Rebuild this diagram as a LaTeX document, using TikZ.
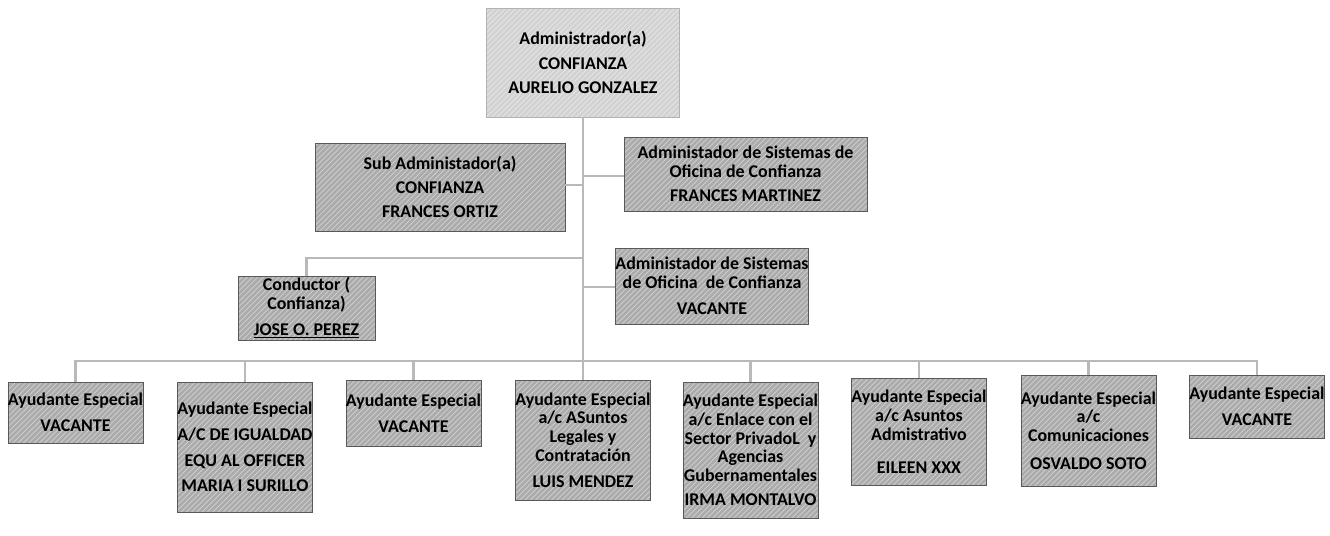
\documentclass[tikz,border=0pt]{standalone}
\usepackage{fontspec}
\setmainfont{Carlito}
\usetikzlibrary{patterns}
\begin{document}
\begin{tikzpicture}[x=0.02cm,y=-0.02cm,
  boxbase/.style 2 args={minimum width=#1*0.02cm, minimum height=#2*0.02cm, inner sep=0pt,
    align=center, font=\fontsize{10.2}{10.7}\selectfont\bfseries, text=black},
  box/.style 2 args={boxbase={#1}{#2}, fill=gray!66,
    postaction={pattern=north east lines, pattern color=gray!35},
    postaction={draw=gray!70!black, line width=0.5pt}},
  topbox/.style 2 args={boxbase={#1}{#2}, fill=gray!35,
    postaction={pattern=north east lines, pattern color=gray!18},
    postaction={draw=gray!60, line width=0.5pt}},
  link/.style={draw=gray!55, line width=1.6pt}]
\useasboundingbox (0,0) rectangle (1330,535);

% nodes
\node[topbox={193}{109}, font=\fontsize{10.2}{14}\selectfont\bfseries] (top) at (583,62.5)
  {Administrador(a)\\CONFIANZA\\AURELIO GONZALEZ};
\node[box={250}{88}, font=\fontsize{10.2}{13.5}\selectfont\bfseries] (sub) at (440,187)
  {Sub Administador(a)\\CONFIANZA\\FRANCES ORTIZ};
\node[box={243}{74}] (sys1) at (745.5,174)
  {Administador de Sistemas de\\Oficina de Confianza\\[3pt]FRANCES MARTINEZ};
\node[box={137}{64}] (cond) at (306.5,308)
  {Conductor (\\Confianza)\\[4pt]\underline{JOSE O. PEREZ}};
\node[box={170}{76}] (sys2) at (712,286)
  {Administador de Sistemas\\de Oficina\ \ de Confianza\\[4pt]VACANTE};

\node[box={135}{61}] (b1) at (75.5,412.5) {Ayudante Especial\\[4pt]VACANTE};
\node[box={134}{130}] (b2) at (245,447)
  {Ayudante Especial\\[4pt]A/C DE IGUALDAD\\[4pt]EQU AL OFFICER\\[4pt]MARIA I SURILLO};
\node[box={135}{66}] (b3) at (413.5,413) {Ayudante Especial\\[4pt]VACANTE};
\node[box={132}{120}] (b4) at (583,440)
  {Ayudante Especial\\a/c ASuntos\\Legales y\\Contratación\\[4pt]LUIS MENDEZ};
\node[box={135}{136}] (b5) at (750.5,450)
  {Ayudante Especial\\a/c Enlace con el\\Sector PrivadoL\ \ y\\Agencias\\Gubernamentales\\[3pt]IRMA MONTALVO};
\node[box={134}{107}] (b6) at (919,431.5)
  {Ayudante Especial\\a/c Asuntos\\Admistrativo\\[8pt]EILEEN XXX};
\node[box={135}{111}] (b7) at (1088.5,430.5)
  {Ayudante Especial\\a/c\\Comunicaciones\\[5pt]OSVALDO SOTO};
\node[box={134}{63}] (b8) at (1257,406.5) {Ayudante Especial\\[4pt]VACANTE};

% connector points
\coordinate (bus) at (583,361);
\coordinate (jsub) at (583,185);
\coordinate (jsys1) at (583,176);
\coordinate (jcond) at (583,258);
\coordinate (jsys2) at (583,287);

% connectors
\draw[link] (top.south) -- (b4.north);
\draw[link] (jsub) -- (jsub -| sub.east);
\draw[link] (jsys1) -- (jsys1 -| sys1.west);
\draw[link] (jcond) -| (cond.north);
\draw[link] (jsys2) -- (jsys2 -| sys2.west);
\draw[link] (b1.north) |- (bus) -| (b8.north);
\foreach \b in {b2,b3,b5,b6,b7}
  \draw[link] (\b.north) -- (\b.north |- bus);
\end{tikzpicture}
\end{document}
